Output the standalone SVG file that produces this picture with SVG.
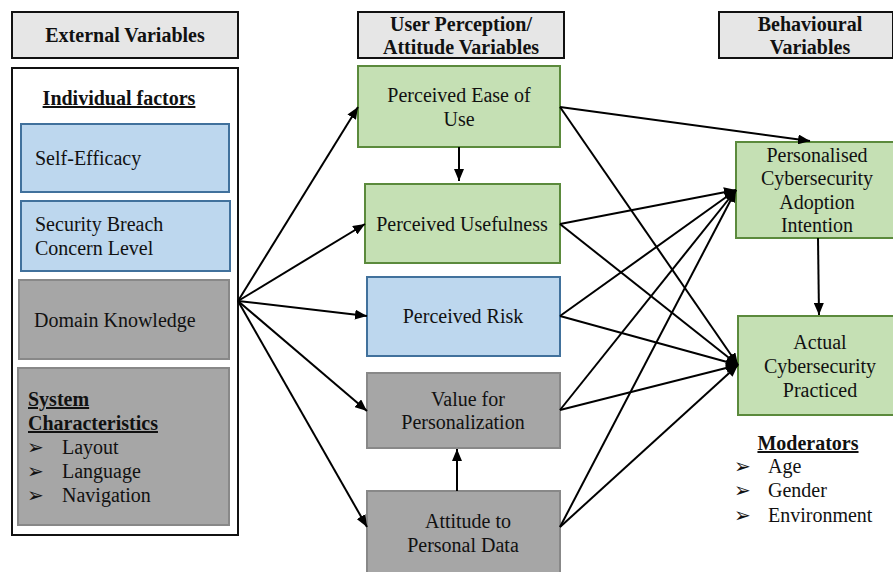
<svg xmlns="http://www.w3.org/2000/svg" width="893" height="572" viewBox="0 0 893 572">
<defs>
<marker id="ah" markerUnits="userSpaceOnUse" markerWidth="12" markerHeight="10" refX="12" refY="5" orient="auto">
<path d="M0,0 L12,5 L0,10 z" fill="#000"/>
</marker>
<style>
text{font-family:"Liberation Serif","Times New Roman",serif;font-size:20px;fill:#111}
.b{font-weight:bold}
.u{text-decoration:underline}
.m{text-anchor:middle}
.hdr{fill:#e6e6e6;stroke:#111;stroke-width:2}
.grn{fill:#c5e0b4;stroke:#5b8a3c;stroke-width:2}
.blu{fill:#bdd7ee;stroke:#41719c;stroke-width:2}
.gry{fill:#a6a6a6;stroke:#888;stroke-width:2}
.bul{font-family:"DejaVu Sans",sans-serif;font-size:20px}
#connectors line{stroke:#000;stroke-width:2;marker-end:url(#ah)}
</style>
</defs>
<rect width="893" height="572" fill="#fff"/>

<g id="hdr-external"><rect class="hdr" x="12" y="12" width="226" height="46"/><text class="b m" x="125" y="42">External Variables</text></g>
<g id="hdr-user"><rect class="hdr" x="358" y="12" width="206" height="46"/><text class="b m" x="461" y="31">User Perception/</text><text class="b m" x="461" y="54">Attitude Variables</text></g>
<g id="hdr-behav"><rect class="hdr" x="719" y="12" width="174" height="46"/><text class="b m" x="810" y="31">Behavioural</text><text class="b m" x="810" y="54">Variables</text></g>

<g id="external-group"><rect x="12" y="68" width="226" height="467" fill="#fff" stroke="#111" stroke-width="2"/><text class="b u m" x="119" y="105">Individual factors</text></g>
<g id="self-efficacy"><rect class="blu" x="21" y="124" width="208" height="68"/><text x="35" y="165">Self-Efficacy</text></g>
<g id="breach"><rect class="blu" x="21" y="201" width="209" height="70"/><text x="35" y="231">Security Breach</text><text x="35" y="255">Concern Level</text></g>
<g id="domain"><rect class="gry" x="19" y="280" width="210" height="79"/><text x="34" y="327">Domain Knowledge</text></g>
<g id="system"><rect class="gry" x="18" y="368" width="211" height="157"/>
<text class="b u" x="28" y="406">System</text><text class="b u" x="28" y="430">Characteristics</text>
<text class="bul" x="27" y="454">➢</text><text x="62" y="454">Layout</text>
<text class="bul" x="27" y="478">➢</text><text x="62" y="478">Language</text>
<text class="bul" x="27" y="502">➢</text><text x="62" y="502">Navigation</text></g>

<g id="peou"><rect class="grn" x="358" y="66" width="202" height="81"/><text class="m" x="459" y="102">Perceived Ease of</text><text class="m" x="459" y="126">Use</text></g>
<g id="pu"><rect class="grn" x="365" y="184" width="195" height="79"/><text class="m" x="462" y="231">Perceived Usefulness</text></g>
<g id="pr"><rect class="blu" x="367" y="277" width="193" height="79"/><text class="m" x="463" y="323">Perceived Risk</text></g>
<g id="vfp"><rect class="gry" x="367" y="373" width="193" height="75"/><text class="m" x="468" y="406">Value for</text><text class="m" x="463" y="429">Personalization</text></g>
<g id="apd"><rect class="gry" x="367" y="491" width="193" height="84"/><text class="m" x="468" y="528">Attitude to</text><text class="m" x="463" y="552">Personal Data</text></g>

<g id="pcai"><rect class="grn" x="736" y="142" width="160" height="96"/><text class="m" x="817" y="162">Personalised</text><text class="m" x="817" y="185">Cybersecurity</text><text class="m" x="817" y="209">Adoption</text><text class="m" x="817" y="232">Intention</text></g>
<g id="acp"><rect class="grn" x="738" y="316" width="158" height="99"/><text class="m" x="820" y="349">Actual</text><text class="m" x="820" y="373">Cybersecurity</text><text class="m" x="820" y="397">Practiced</text></g>

<g id="moderators"><text class="b u m" x="808" y="450">Moderators</text>
<text class="bul" x="734" y="473">➢</text><text x="768" y="473">Age</text>
<text class="bul" x="734" y="497">➢</text><text x="768" y="497">Gender</text>
<text class="bul" x="734" y="522">➢</text><text x="768" y="522">Environment</text></g>

<g id="connectors">
<line x1="238" y1="301" x2="358" y2="107"/>
<line x1="238" y1="301" x2="365" y2="224"/>
<line x1="238" y1="301" x2="367" y2="316"/>
<line x1="238" y1="301" x2="367" y2="411"/>
<line x1="238" y1="301" x2="367" y2="527"/>
<line x1="459" y1="147" x2="459" y2="181"/>
<line x1="457" y1="491" x2="457" y2="449"/>
<line x1="560" y1="107" x2="810" y2="141"/>
<line x1="560" y1="107" x2="738" y2="365"/>
<line x1="560" y1="224" x2="736" y2="190"/>
<line x1="560" y1="224" x2="738" y2="365"/>
<line x1="560" y1="316" x2="736" y2="190"/>
<line x1="560" y1="316" x2="738" y2="365"/>
<line x1="560" y1="410" x2="736" y2="190"/>
<line x1="560" y1="410" x2="738" y2="365"/>
<line x1="560" y1="527" x2="736" y2="190"/>
<line x1="560" y1="527" x2="738" y2="365"/>
<line x1="818" y1="238" x2="819" y2="315"/>
</g>
</svg>
